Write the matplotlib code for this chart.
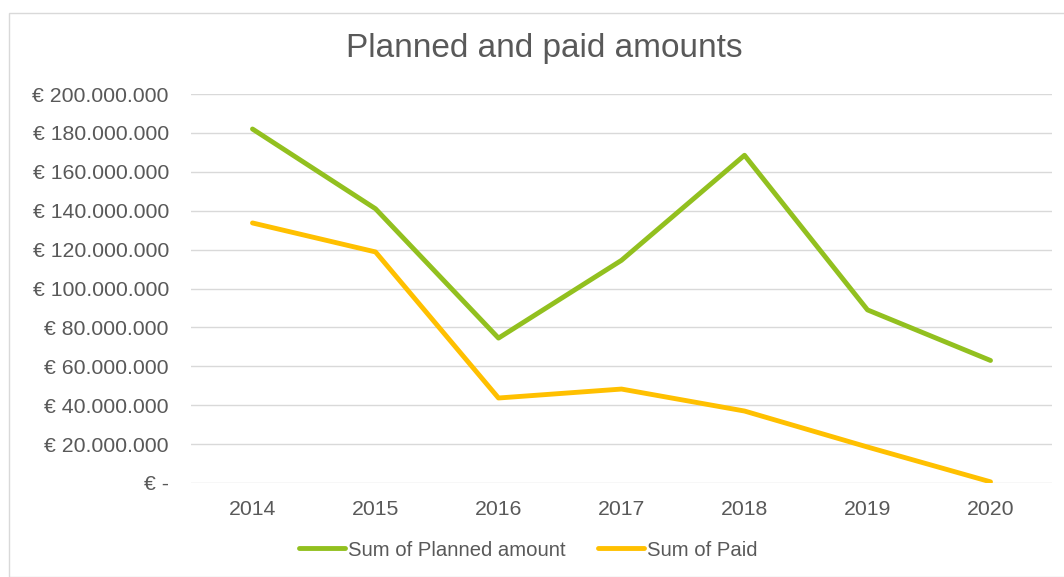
import numpy as np
import matplotlib.pyplot as plt
from matplotlib.patches import Rectangle

years = ["2014", "2015", "2016", "2017", "2018", "2019", "2020"]
planned = [182.0, 141.0, 74.5, 114.5, 168.5, 89.0, 63.0]
paid = [133.7, 118.8, 43.7, 48.3, 37.0, 18.5, 0.6]
yticks = [0, 20, 40, 60, 80, 100, 120, 140, 160, 180, 200]

plt.rcParams['font.family'] = ['Liberation Sans', 'DejaVu Sans']

def euro(v):
  if v == 0:
    return "€ -"
  return "€ " + f"{int(v * 1e6):,}".replace(",", ".")

fig = plt.figure(figsize=(10.64, 5.77), dpi=100)
fig.patches.append(Rectangle((9 / 1064, 0), 1.2, 1 - 13 / 577, transform=fig.transFigure,
                             fill=False, edgecolor='#d9d9d9', linewidth=1))
ax = fig.add_axes([191 / 1064, 1 - 483 / 577, 861 / 1064, 389 / 577])

x = np.arange(len(years))
ax.plot(x, planned, color='#92c01f', linewidth=3.5, solid_capstyle='round', solid_joinstyle='round',
        label="Sum of Planned amount")
ax.plot(x, paid, color='#ffc000', linewidth=3.5, solid_capstyle='round', solid_joinstyle='round',
        label="Sum of Paid")

ax.set_xlim(-0.5, len(years) - 0.5)
ax.set_ylim(0, 200)
ax.set_yticks(yticks)
ax.set_yticklabels([euro(v) for v in yticks])
ax.set_xticks(x)
ax.set_xticklabels(years)
ax.grid(axis='y', color='#d9d9d9', linewidth=1)
ax.set_axisbelow(True)
for s in ax.spines.values():
  s.set_visible(False)
ax.tick_params(axis='both', length=0, labelsize=15.3, colors='#595959')
ax.tick_params(axis='y', pad=16)
ax.tick_params(axis='x', pad=12)

fig.text(544 / 1064, 1 - 48 / 577, "Planned and paid amounts", ha='center', va='center',
         fontsize=24, color='#595959')
ax.legend(loc='center', bbox_to_anchor=((528 - 191) / 861, (483 - 550) / 389),
          ncol=2, frameon=False, fontsize=14.6, labelcolor='#595959', handlelength=2.27,
          handletextpad=0.15, columnspacing=1.6)

plt.savefig("out.png", dpi=100)
